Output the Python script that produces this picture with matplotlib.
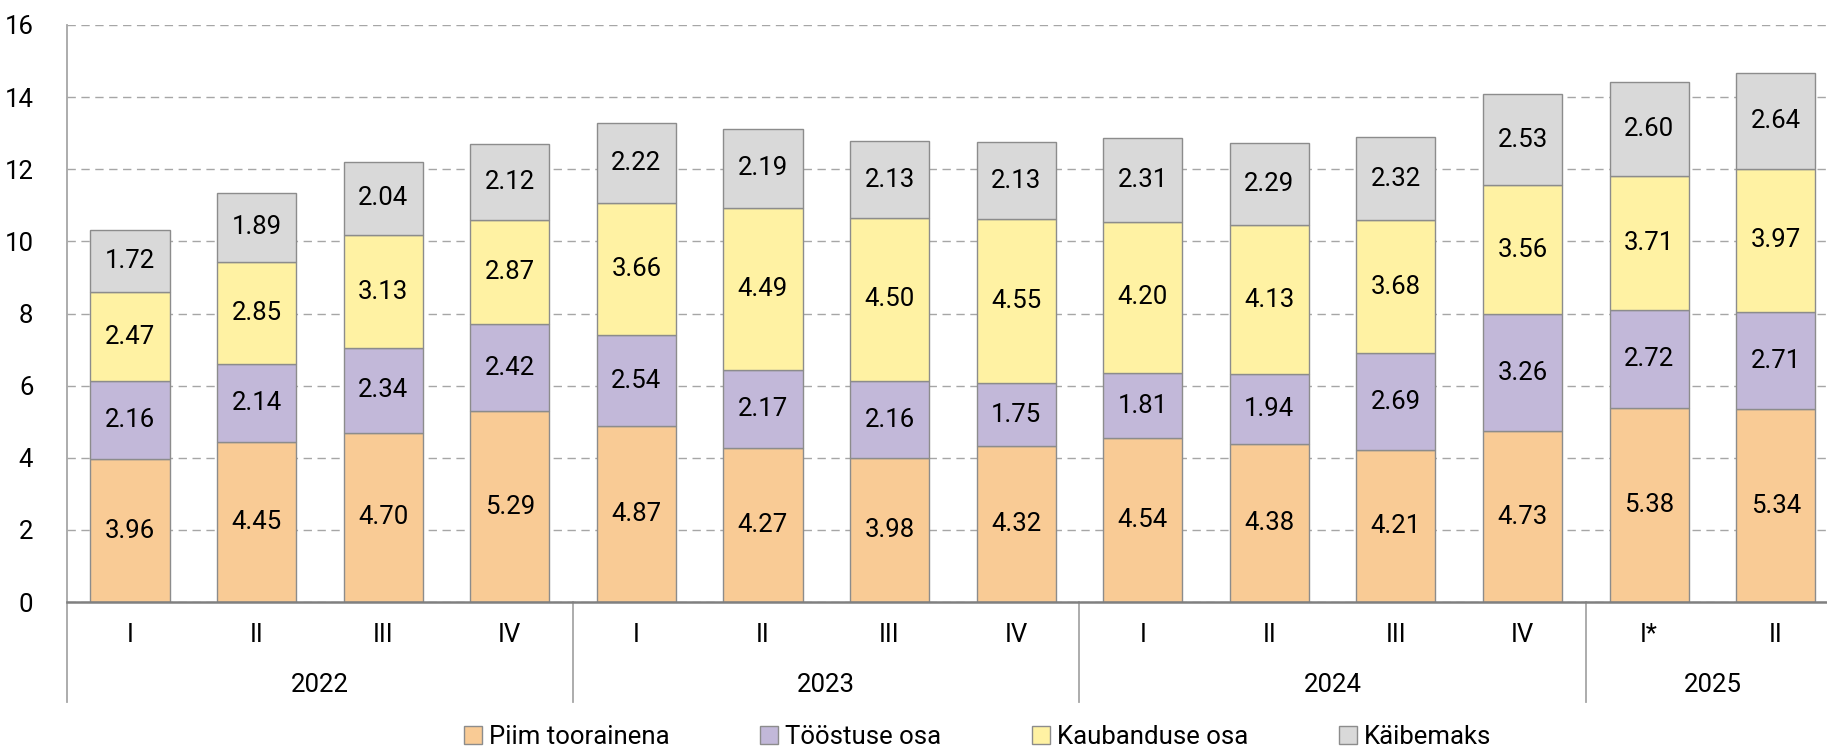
import matplotlib
matplotlib.use("Agg")
import matplotlib.pyplot as plt
from matplotlib.patches import Patch
from matplotlib.transforms import blended_transform_factory

plt.rcParams['font.family'] = ['Roboto', 'DejaVu Sans']

quarters = ["I", "II", "III", "IV", "I", "II", "III", "IV", "I", "II", "III", "IV", "I*", "II"]
years = ["2022", "2023", "2024", "2025"]
year_sizes = [4, 4, 4, 2]

series_names = ["Piim toorainena", "Tööstuse osa", "Kaubanduse osa", "Käibemaks"]
piim = [3.96, 4.45, 4.70, 5.29, 4.87, 4.27, 3.98, 4.32, 4.54, 4.38, 4.21, 4.73, 5.38, 5.34]
toostus = [2.16, 2.14, 2.34, 2.42, 2.54, 2.17, 2.16, 1.75, 1.81, 1.94, 2.69, 3.26, 2.72, 2.71]
kaubandus = [2.47, 2.85, 3.13, 2.87, 3.66, 4.49, 4.50, 4.55, 4.20, 4.13, 3.68, 3.56, 3.71, 3.97]
kaibemaks = [1.72, 1.89, 2.04, 2.12, 2.22, 2.19, 2.13, 2.13, 2.31, 2.29, 2.32, 2.53, 2.60, 2.64]
yticks = [0, 2, 4, 6, 8, 10, 12, 14, 16]

colors = ["#F9CB95", "#C2B8D9", "#FFF2A3", "#D9D9D9"]
edge = "#8C8C8C"
FS = 18.5

W, H = 1827, 749
fig = plt.figure(figsize=(W / 100, H / 100), dpi=100)
left_px, right_px, top_px, bottom_px = 66.7, 1839, 25, 602
ax = fig.add_axes([left_px / W, 1 - bottom_px / H, (right_px - left_px) / W, (bottom_px - top_px) / H])

x = list(range(len(quarters)))
bottoms = [0.0] * len(x)
for vals, col in zip([piim, toostus, kaubandus, kaibemaks], colors):
    ax.bar(x, vals, bottom=bottoms, width=0.625, color=col, edgecolor=edge, linewidth=1.0, zorder=3)
    for xi, b, v in zip(x, bottoms, vals):
        ax.text(xi, b + v / 2, f"{v:.2f}", ha="center", va="center", fontsize=FS, color="black", zorder=4)
    bottoms = [b + v for b, v in zip(bottoms, vals)]

ax.set_xlim(-0.5, len(x) - 0.5)
ax.set_ylim(0, 16)
ax.set_yticks(yticks)
ax.set_yticklabels([str(t) for t in yticks], fontsize=FS)
ax.tick_params(axis="y", length=0, pad=24)
ax.set_xticks([])
ax.yaxis.grid(True, color="#A6A6A6", linestyle=(0, (6, 4)), linewidth=1.0, zorder=0)
ax.set_axisbelow(True)
for s in ["top", "right"]:
    ax.spines[s].set_visible(False)
ax.spines["left"].set_color("#A6A6A6")
ax.spines["left"].set_linewidth(1.3)
ax.spines["bottom"].set_color("#808080")
ax.spines["bottom"].set_linewidth(1.8)
ax.spines["bottom"].set_zorder(5)

trans = blended_transform_factory(ax.transData, ax.transAxes)
axh = bottom_px - top_px
y_q = -(635 - bottom_px) / axh
y_y = -(685 - bottom_px) / axh
y_sep = -(702 - bottom_px) / axh
for xi, q in zip(x, quarters):
    ax.text(xi, y_q, q, transform=trans, ha="center", va="center", fontsize=FS, clip_on=False)

start = 0
for yr, n in zip(years, year_sizes):
    ax.text(start + (n - 1) / 2, y_y, yr, transform=trans, ha="center", va="center", fontsize=FS, clip_on=False)
    ax.plot([start - 0.5, start - 0.5], [0, y_sep], transform=trans, color="#A6A6A6", linewidth=1.3, clip_on=False)
    start += n

handles = [Patch(facecolor=c, edgecolor=edge, linewidth=1.0) for c in colors]
fig.legend(handles, series_names, loc="center", bbox_to_anchor=(0.535, 1 - 737 / H), ncol=4,
           frameon=False, fontsize=FS, handlelength=0.7, handleheight=0.7, handletextpad=0.25,
           columnspacing=3.55)

fig.savefig("out.png", dpi=100)
